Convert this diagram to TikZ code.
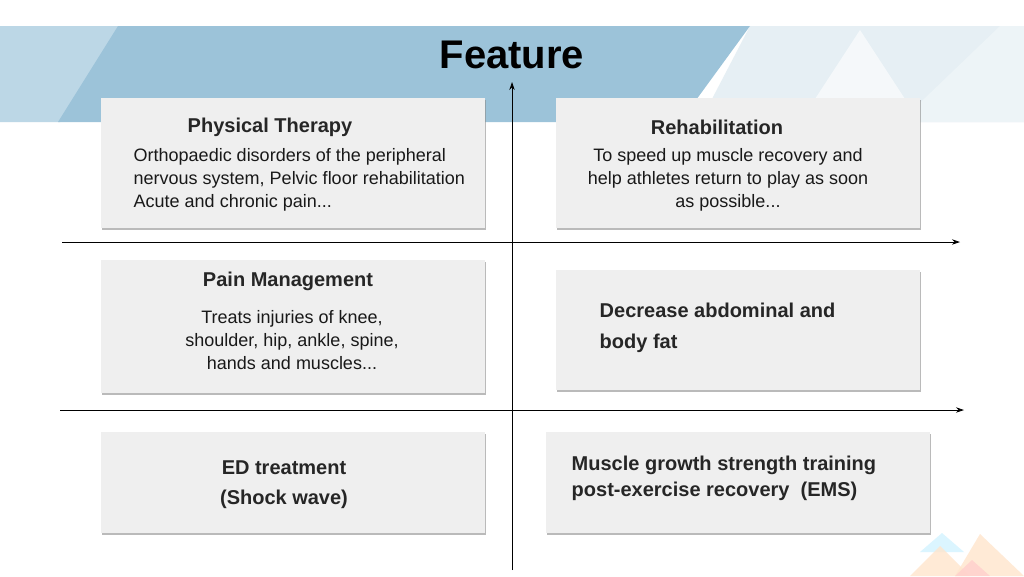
\documentclass[tikz,border=0pt]{standalone}
\usepackage{fontspec}
\setmainfont{Liberation Sans}
\usetikzlibrary{arrows.meta,shadows}
\definecolor{banner}{HTML}{9CC3D9}
\definecolor{bannerlight}{HTML}{BCD7E6}
\definecolor{tri}{HTML}{E6EFF4}
\definecolor{boxfill}{HTML}{EFEFEF}
\tikzset{
  card/.style={fill=boxfill,draw=none,drop shadow={shadow xshift=1pt,shadow yshift=-1.5pt,fill=black!45,opacity=.6}},
  head/.style={font=\fontsize{15}{18}\selectfont\bfseries,text=black!85},
  body/.style={font=\fontsize{13.5}{17}\selectfont,text=black!90,align=center},
  axis/.style={semithick,-{Stealth[length=6pt,width=4pt]}}
}
\begin{document}
\begin{tikzpicture}[x=0.75pt,y=-0.75pt]
  \useasboundingbox (0,0) rectangle (1024,576);
  \fill[white] (0,0) rectangle (1024,576);
  % banner
  \fill[tri] (750,26)--(1024,26)--(1024,122)--(700,122)--cycle;
  \fill[white,opacity=.6] (800,122)--(860,30)--(920,122)--cycle;
  \fill[tri!70] (900,122)--(1000,26)--(1024,26)--(1024,122)--cycle;
  \fill[bannerlight] (0,26)--(120,26)--(60,122)--(0,122)--cycle;
  \fill[banner] (118,26)--(750,26)--(680,122)--(58,122)--cycle;
  \node[font=\fontsize{30}{34}\selectfont\bfseries] (title) at (512,55) {Feature};
  % mountains
  \fill[blue!25!cyan!20,opacity=.7] (920,552)--(942,533)--(964,552)--cycle;
  \fill[orange!20,opacity=.8] (910,576)--(940,546)--(970,576)--cycle;
  \fill[orange!20,opacity=.8] (955,576)--(980,534)--(1024,576)--cycle;
  \fill[red!20,opacity=.7] (955,576)--(972,560)--(990,576)--cycle;
  % cards
  \fill[card] (101,98) rectangle (485,228);
  \fill[card] (556,98) rectangle (920,228);
  \fill[card] (101,260) rectangle (485,393);
  \fill[card] (556,270) rectangle (920,390);
  \fill[card] (101,432) rectangle (485,533);
  \fill[card] (546,432) rectangle (930,533);
  % axes
  \coordinate (vS) at (512,570);
  \coordinate (vL) at (512,82);
  \coordinate (hAS) at (62,242);
  \coordinate (hAL) at (960,242);
  \coordinate (hBS) at (60,410);
  \coordinate (hBL) at (964,410);
  \draw[axis] (vS)--(vL);
  \draw[axis] (hAS)--(hAL);
  \draw[axis] (hBS)--(hBL);
  % texts
  \node[head] (pt) at (270,127) {Physical Therapy};
  \node[body,align=left,anchor=west] (ptt) at (129,180) {Orthopaedic disorders of the peripheral\\nervous system, Pelvic floor rehabilitation\\Acute and chronic pain...};
  \node[head] (re) at (717,127) {Rehabilitation};
  \node[body] (ret) at (728,180) {To speed up muscle recovery and\\help athletes return to play as soon\\as possible...};
  \node[head] (pm) at (288,281) {Pain Management};
  \node[body] (pmt) at (292,340) {Treats injuries of knee,\\shoulder, hip, ankle, spine,\\hands and muscles...};
  \node[head,align=left,anchor=west,font=\fontsize{15}{23.5}\selectfont\bfseries] (fat) at (595,328) {Decrease abdominal and\\body fat};
  \node[head,align=center,font=\fontsize{15}{22.5}\selectfont\bfseries] (ed) at (284,485) {ED treatment\\(Shock wave)};
  \node[head,align=left,anchor=west,font=\fontsize{15}{19.5}\selectfont\bfseries] (ems) at (567,478) {Muscle growth strength training\\post-exercise recovery~~(EMS)};
\end{tikzpicture}
\end{document}
